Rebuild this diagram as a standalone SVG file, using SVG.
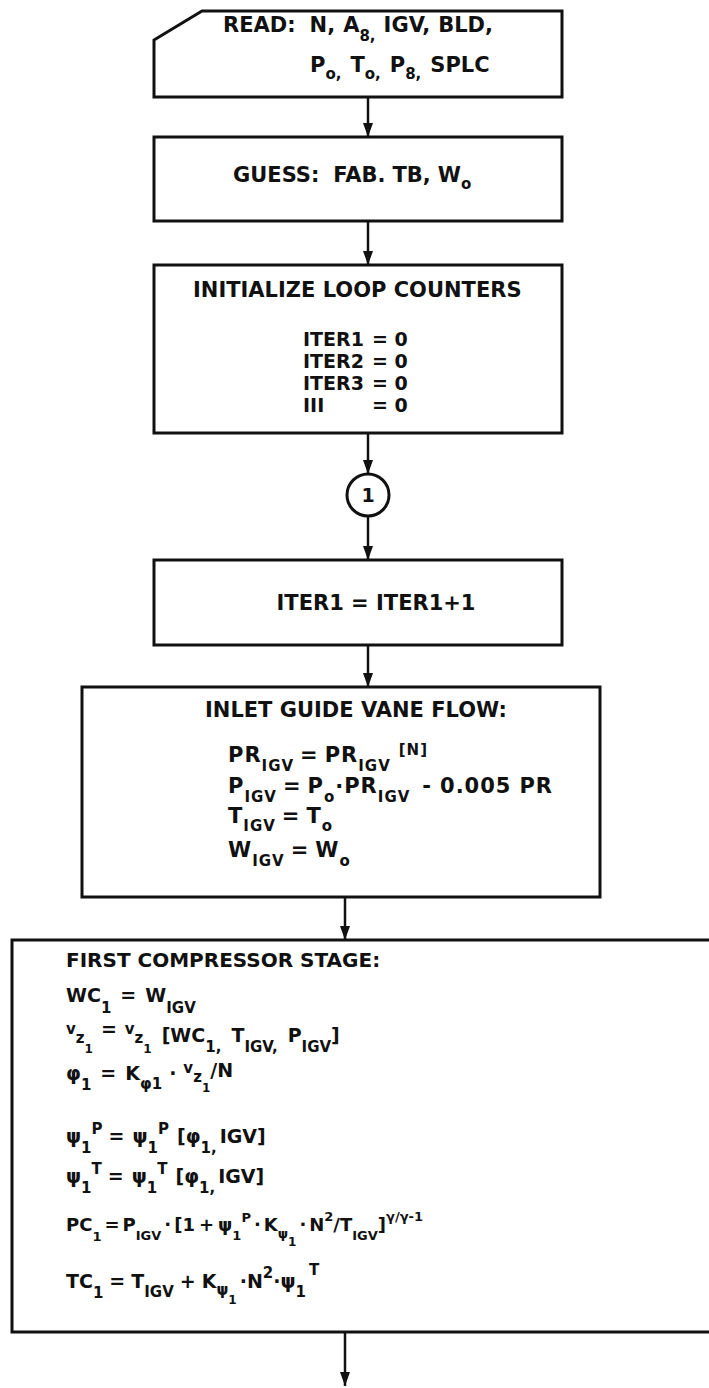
<svg xmlns="http://www.w3.org/2000/svg" width="709" height="1388" viewBox="0 0 709 1388">
<defs>
<style>
.box{fill:none;stroke:#111;stroke-width:3}
.conn line{stroke:#111;stroke-width:2.5}
text{font-family:"DejaVu Sans","Liberation Sans",sans-serif;font-weight:bold;fill:#111}
.h{font-size:21px}
.m{font-size:19px}
.s{font-size:15px}
.e{font-size:19px}
.es{font-size:15px}
.ss{font-size:12px}
.p{font-size:18px}
.ps{font-size:13px}
.w{letter-spacing:1px}
</style>
<marker id="ah" viewBox="0 0 14 10" refX="14" refY="5" markerWidth="14" markerHeight="10" markerUnits="userSpaceOnUse" orient="auto">
<path d="M0,0 L14,5 L0,10 Z" fill="#111"/>
</marker>
</defs>
<rect width="709" height="1388" fill="#fff"/>

<g id="read">
<path class="box" d="M154,40 L202,11 L562,11 L562,97 L154,97 Z"/>
<text class="h" x="223" y="32">READ:<tspan dx="14">N,</tspan><tspan dx="8">A</tspan><tspan class="s" y="41">8,</tspan><tspan y="32" dx="8">IGV,</tspan><tspan dx="8">BLD,</tspan></text>
<text class="h" x="310" y="72">P<tspan class="s" y="79">o,</tspan><tspan y="72" dx="9">T</tspan><tspan class="s" y="79">o,</tspan><tspan y="72" dx="9">P</tspan><tspan class="s" y="79">8,</tspan><tspan y="72" dx="9">SPLC</tspan></text>
</g>

<g id="guess">
<rect class="box" x="154" y="137" width="408" height="84"/>
<text class="h" x="233" y="182">GUESS:<tspan dx="14">FAB.</tspan><tspan dx="7">TB,</tspan><tspan dx="7">W</tspan><tspan class="s" y="189">o</tspan></text>
</g>

<g id="init">
<rect class="box" x="154" y="265" width="408" height="168"/>
<text class="h" x="193" y="297">INITIALIZE LOOP COUNTERS</text>
<text class="m" x="303" y="346">ITER1</text><text class="m" x="372" y="346">= 0</text>
<text class="m" x="303" y="368">ITER2</text><text class="m" x="372" y="368">= 0</text>
<text class="m" x="303" y="390">ITER3</text><text class="m" x="372" y="390">= 0</text>
<text class="m" x="303" y="412">III</text><text class="m" x="372" y="412">= 0</text>
</g>

<g id="conn1">
<circle class="box" cx="368" cy="495" r="21"/>
<text class="m" x="368" y="502" text-anchor="middle">1</text>
</g>

<g id="iter1">
<rect class="box" x="154" y="560" width="408" height="85"/>
<text class="h" x="376" y="610" text-anchor="middle">ITER1 = ITER1+1</text>
</g>

<g id="igv">
<rect class="box" x="82" y="687" width="518" height="210"/>
<text class="h" x="205" y="717">INLET GUIDE VANE FLOW:</text>
<text class="h w" x="228" y="762">PR<tspan class="s" y="771">IGV</tspan><tspan y="762" dx="6">=</tspan><tspan dx="6">PR</tspan><tspan class="s" y="771">IGV</tspan><tspan class="s" y="755" dx="8">[N]</tspan></text>
<text class="h w" x="228" y="793">P<tspan class="s" y="802">IGV</tspan><tspan y="793" dx="6">=</tspan><tspan dx="6">P</tspan><tspan class="s" y="802">o</tspan><tspan y="793">·PR</tspan><tspan class="s" y="802">IGV</tspan><tspan y="793" dx="12">-</tspan><tspan dx="8">0.005</tspan><tspan dx="8">PR</tspan></text>
<text class="h w" x="228" y="823">T<tspan class="s" y="831">IGV</tspan><tspan y="823" dx="6">=</tspan><tspan dx="6">T</tspan><tspan class="s" y="831">o</tspan></text>
<text class="h w" x="228" y="857">W<tspan class="s" y="866">IGV</tspan><tspan y="857" dx="6">=</tspan><tspan dx="6">W</tspan><tspan class="s" y="866">o</tspan></text>
</g>

<g id="stage1">
<path class="box" d="M720,940 L12,940 L12,1332 L720,1332"/>
<text x="66" y="967" style="font-size:20px">FIRST COMPRESSOR STAGE:</text>
<text class="e" x="66" y="1002">WC<tspan class="es" y="1013">1</tspan><tspan y="1002" dx="9">=</tspan><tspan dx="9">W</tspan><tspan class="es" y="1013">IGV</tspan></text>
<text class="e" x="66" y="1042"><tspan class="es" y="1034">v</tspan><tspan class="es" y="1043">z</tspan><tspan class="ss" y="1053">1</tspan><tspan y="1036" dx="8">=</tspan><tspan class="es" y="1034" dx="8">v</tspan><tspan class="es" y="1043">z</tspan><tspan class="ss" y="1053">1</tspan><tspan y="1042" dx="10">[WC</tspan><tspan class="es" y="1052">1,</tspan><tspan y="1042" dx="10">T</tspan><tspan class="es" y="1052">IGV,</tspan><tspan y="1042" dx="10">P</tspan><tspan class="es" y="1052">IGV</tspan><tspan y="1042">]</tspan></text>
<text class="e" x="66" y="1080">φ<tspan class="es" y="1090">1</tspan><tspan y="1080" dx="9">=</tspan><tspan dx="9">K</tspan><tspan class="es" y="1089">φ1</tspan><tspan y="1080" dx="7">·</tspan><tspan class="es" y="1073" dx="7">v</tspan><tspan class="es" y="1082">z</tspan><tspan class="ss" y="1092">1</tspan><tspan y="1077">/N</tspan></text>
<text class="e" x="66" y="1143">ψ<tspan class="es" y="1153">1</tspan><tspan class="es" y="1134">P</tspan><tspan y="1143" dx="6">=</tspan><tspan dx="8">ψ</tspan><tspan class="es" y="1153">1</tspan><tspan class="es" y="1134">P</tspan><tspan y="1143" dx="8">[φ</tspan><tspan class="es" y="1153">1,</tspan><tspan y="1143" dx="3">IGV]</tspan></text>
<text class="e" x="66" y="1183">ψ<tspan class="es" y="1193">1</tspan><tspan class="es" y="1174">T</tspan><tspan y="1183" dx="6">=</tspan><tspan dx="8">ψ</tspan><tspan class="es" y="1193">1</tspan><tspan class="es" y="1174">T</tspan><tspan y="1183" dx="8">[φ</tspan><tspan class="es" y="1193">1,</tspan><tspan y="1183" dx="3">IGV]</tspan></text>
<text class="p" x="66" y="1231">PC<tspan class="ps" y="1241">1</tspan><tspan y="1231" dx="3">=</tspan><tspan dx="3">P</tspan><tspan class="ps" y="1240">IGV</tspan><tspan y="1231" dx="3">·</tspan><tspan dx="3">[1</tspan><tspan dx="4">+</tspan><tspan dx="4">ψ</tspan><tspan class="ps" y="1240">1</tspan><tspan class="ps" y="1222">P</tspan><tspan y="1231" dx="3">·</tspan><tspan dx="3">K</tspan><tspan class="ps" y="1238">ψ</tspan><tspan class="ss" y="1246">1</tspan><tspan y="1231" dx="3">·</tspan><tspan dx="3">N</tspan><tspan class="ps" y="1221">2</tspan><tspan y="1231">/T</tspan><tspan class="ps" y="1240">IGV</tspan><tspan y="1231">]</tspan><tspan class="ps" y="1221">γ/γ-1</tspan></text>
<text class="e" x="66" y="1288">TC<tspan class="es" y="1298">1</tspan><tspan y="1288" dx="6">=</tspan><tspan dx="6">T</tspan><tspan class="es" y="1297">IGV</tspan><tspan y="1288" dx="6">+</tspan><tspan dx="6">K</tspan><tspan class="es" y="1295">ψ</tspan><tspan class="ss" y="1304">1</tspan><tspan y="1288" dx="3">·N</tspan><tspan class="es" y="1278">2</tspan><tspan y="1288">·ψ</tspan><tspan class="es" y="1297">1</tspan><tspan class="es" y="1275" dx="3">T</tspan></text>
</g>

<g id="connectors" class="conn">
<line x1="368" y1="97" x2="368" y2="137" marker-end="url(#ah)"/>
<line x1="368" y1="221" x2="368" y2="265" marker-end="url(#ah)"/>
<line x1="368" y1="433" x2="368" y2="474" marker-end="url(#ah)"/>
<line x1="368" y1="516" x2="368" y2="560" marker-end="url(#ah)"/>
<line x1="368" y1="645" x2="368" y2="687" marker-end="url(#ah)"/>
<line x1="345" y1="897" x2="345" y2="940" marker-end="url(#ah)"/>
<line x1="345" y1="1332" x2="345" y2="1386" marker-end="url(#ah)"/>
</g>
</svg>
